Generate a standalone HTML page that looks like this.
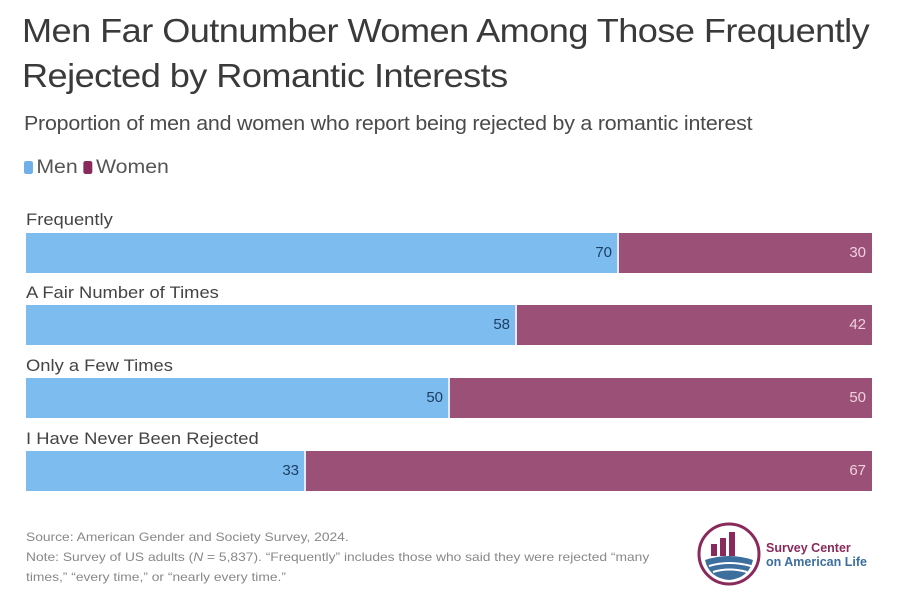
<!DOCTYPE html>
<html><head><meta charset="utf-8"><style>
body{margin:0;width:913px;height:614px;background:#fff;font-family:"Liberation Sans",sans-serif;position:relative;overflow:hidden;color:#333}
.t{position:absolute;left:22px;top:8px;font-size:33px;line-height:45px;color:#3a3a3a;letter-spacing:-0.5px;transform-origin:0 0;transform:scaleX(1.095);white-space:nowrap}
.s{position:absolute;left:24px;top:113px;font-size:20px;color:#4a4a4a;letter-spacing:-0.2px;transform-origin:0 0;transform:scaleX(1.07);white-space:nowrap}
.lg{position:absolute;left:24px;top:157px;font-size:19px;color:#555;transform-origin:0 0;transform:scaleX(1.12);white-space:nowrap}
.sw{display:inline-block;width:8px;height:13px;border-radius:2px;vertical-align:-1px;margin-right:3px}
.lab{position:absolute;left:26px;font-size:17px;color:#444;transform-origin:0 0;transform:scaleX(1.08);white-space:nowrap}
.bar{position:absolute;left:26px;width:846px;height:40px;background:#9a5077;display:flex}
.m{background:#7dbcef;height:100%;border-right:2px solid #e8e8f0;box-sizing:border-box;text-align:right;padding-right:5px;color:#1d3f66;font-size:15px;line-height:40px}
.w{flex:1;text-align:right;padding-right:6px;color:#f0d0de;font-size:15px;line-height:40px}
.f{position:absolute;left:26px;top:527px;font-size:12px;line-height:20px;color:#888;transform-origin:0 0;transform:scaleX(1.15);white-space:nowrap}
</style></head><body>
<div class="t">Men Far Outnumber Women Among Those Frequently<br>Rejected by Romantic Interests</div>
<div class="s">Proportion of men and women who report being rejected by a romantic interest</div>
<div class="lg"><span class="sw" style="background:#6fb0ea"></span>Men <span class="sw" style="background:#8a2a5c"></span>Women</div>
<div class="lab" style="top:210px">Frequently</div>
<div class="bar" style="top:233px"><div class="m" style="width:593px">70</div><div class="w">30</div></div>
<div class="lab" style="top:283px">A Fair Number of Times</div>
<div class="bar" style="top:305px"><div class="m" style="width:491px">58</div><div class="w">42</div></div>
<div class="lab" style="top:356px">Only a Few Times</div>
<div class="bar" style="top:378px"><div class="m" style="width:424px">50</div><div class="w">50</div></div>
<div class="lab" style="top:429px">I Have Never Been Rejected</div>
<div class="bar" style="top:451px"><div class="m" style="width:280px">33</div><div class="w">67</div></div>
<div class="f">Source: American Gender and Society Survey, 2024.<br>Note: Survey of US adults (<i>N</i> = 5,837). “Frequently” includes those who said they were rejected “many<br>times,” “every time,” or “nearly every time.”</div>
<svg style="position:absolute;left:695px;top:520px" width="70" height="70" viewBox="0 0 70 70">
<circle cx="34" cy="34" r="30" fill="none" stroke="#8a2a5c" stroke-width="3"/>
<rect x="16" y="24" width="6" height="12" fill="#8a2a5c"/><rect x="25" y="18" width="6" height="18" fill="#8a2a5c"/><rect x="34" y="12" width="6" height="24" fill="#8a2a5c"/>
<path d="M10 40 Q34 32 58 40 Q54 58 34 60 Q14 58 10 40Z" fill="#3c6e9e"/>
<path d="M14 46 Q34 40 56 46 M18 52 Q34 47 52 52" stroke="#fff" stroke-width="2" fill="none"/>
</svg>
<div style="position:absolute;left:766px;top:541px;font-size:12.5px;line-height:14px;font-weight:bold"><span style="color:#8a2a5c">Survey Center</span><br><span style="color:#3c6e9e">on American Life</span></div>
</body></html>
